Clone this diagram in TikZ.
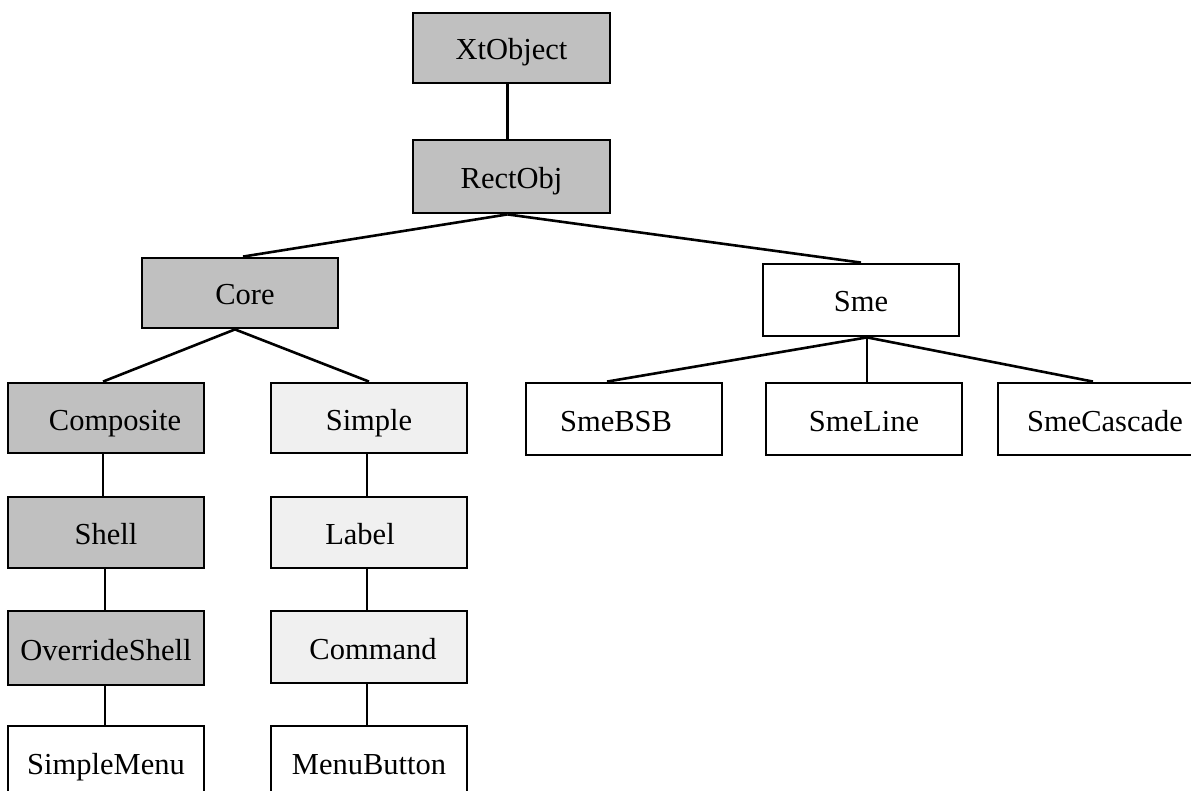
\documentclass[tikz,border=0pt]{standalone}
\usepackage{fontspec}
\setmainfont{Liberation Serif}
\definecolor{darkfill}{RGB}{192,192,192}
\definecolor{lightfill}{RGB}{240,240,240}
\begin{document}
\begin{tikzpicture}[x=1pt,y=-1pt,
  cls/.style={draw=black,line width=2.8pt,minimum width=196pt,inner sep=0pt,
    text height=24pt,text depth=0pt,
    font=\fontsize{30.5}{36}\selectfont},
  dark/.style={cls,fill=darkfill},
  light/.style={cls,fill=lightfill},
  plain/.style={cls,fill=white},
  conn/.style={line width=2.6pt,line cap=butt}]
\useasboundingbox (0,0) rectangle (1191,791);
\fill[white] (0,0) rectangle (1191,791);
% row 0-1
\node[dark,minimum height=70pt,minimum width=197pt] (xt) at (511.5,48) {XtObject};
\node[dark,minimum height=73pt,minimum width=197pt] (rect) at (511.5,176.5) {RectObj};
% row 2
\node[dark,minimum height=70pt] (core) at (240,293) {\hspace*{10pt}Core};
\node[plain,minimum height=72pt] (sme) at (861,300) {Sme};
% row 3
\node[dark,minimum height=70pt] (comp) at (106,418) {\hspace*{18pt}Composite};
\node[light,minimum height=70pt] (simple) at (369,418) {Simple};
\node[plain,minimum height=72pt] (bsb) at (624,419) {SmeBSB\hspace*{16pt}};
\node[plain,minimum height=72pt] (line) at (864,419) {SmeLine};
\node[plain,minimum height=72pt] (casc) at (1096,419) {\hspace*{18pt}SmeCascade};
% row 4
\node[dark,minimum height=71pt] (shell) at (106,532.5) {Shell};
\node[light,minimum height=71pt] (label) at (369,532.5) {Label\hspace*{18pt}};
% row 5
\node[dark,minimum height=74pt] (over) at (106,648) {OverrideShell};
\node[light,minimum height=72pt] (cmd) at (369,647) {\hspace*{8pt}Command};
% row 6
\node[plain,minimum height=72pt] (menu) at (106,762) {SimpleMenu};
\node[plain,minimum height=72pt] (mbtn) at (369,762) {MenuButton};
% connectors
\draw[conn] ([xshift=-4pt]xt.south) -- ([xshift=-4pt]rect.north);
\draw[conn] ([xshift=-4pt]rect.south) -- ([xshift=3pt]core.north);
\draw[conn] ([xshift=-4pt]rect.south) -- (sme.north);
\draw[conn] ([xshift=-5pt]core.south) -- ([xshift=-3pt]comp.north);
\draw[conn] ([xshift=-5pt]core.south) -- (simple.north);
\draw[conn] ([xshift=6pt]sme.south) -- ([xshift=-17pt]bsb.north);
\draw[conn] ([xshift=6pt]sme.south) -- ([xshift=3pt]line.north);
\draw[conn] ([xshift=6pt]sme.south) -- ([xshift=-3pt]casc.north);
\draw[conn] ([xshift=-3pt]comp.south) -- ([xshift=-3pt]shell.north);
\draw[conn] ([xshift=-1pt]shell.south) -- ([xshift=-1pt]over.north);
\draw[conn] ([xshift=-1pt]over.south) -- ([xshift=-1pt]menu.north);
\draw[conn] ([xshift=-2pt]simple.south) -- ([xshift=-2pt]label.north);
\draw[conn] ([xshift=-2pt]label.south) -- ([xshift=-2pt]cmd.north);
\draw[conn] ([xshift=-2pt]cmd.south) -- ([xshift=-2pt]mbtn.north);
\end{tikzpicture}
\end{document}
